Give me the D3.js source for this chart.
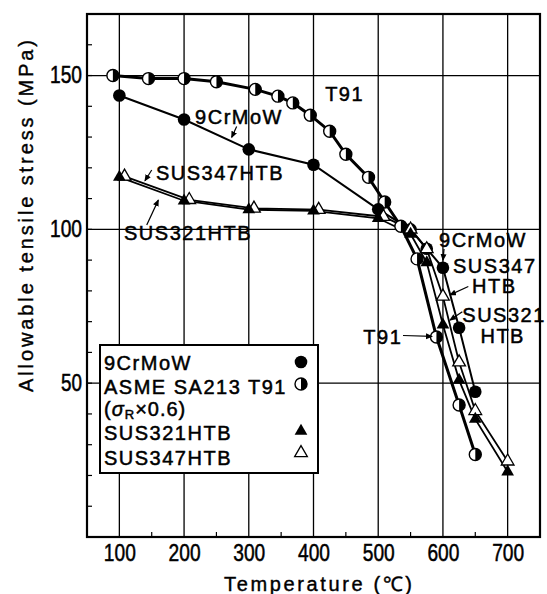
<!DOCTYPE html>
<html>
<head>
<meta charset="utf-8">
<script src="https://cdn.jsdelivr.net/npm/d3@7/dist/d3.min.js"></script>
<style>
body{margin:0;background:#fff;}
text{font-family:"Liberation Sans",Arial,sans-serif;fill:#000;}
</style>
</head>
<body>
<div id="chart"></div>
<script>
// values
var xTicks = [100,200,300,400,500,600,700];
var yTicks = [50,100,150];

var temp9Cr = [100,200,300,400,500,550,575,600,625,650];
var stress9Cr = [143.5,135.7,126,121,106.5,100,93.7,87.5,68,47.2];

var tempT91 = [90,145,200,250,310,345,368,395,425,450,485,510,535,560,590,625,650];
var stressT91 = [150,149,149,148,145.5,143.3,141.1,137.1,131.9,124.4,116.9,108.9,101,90.4,65,42.9,26.8];

var temp321 = [100,200,300,400,500,550,575,600,625,650,700];
var stress321 = [117,109.3,106.4,106,103.6,98.5,89.2,69,51,38.3,21.2];

var temp347 = [108,208,308,408,508,550,575,600,625,650,700];
var stress347 = [117.2,109.6,106.8,106.4,104.1,100,93.6,78.2,56.8,41,24.6];

var legendLabels = ["9CrMoW","ASME SA213 T91","SUS321HTB","SUS347HTB"];

// annotation text [label, temp, stress] and leader lines [t1,s1,t2,s2]
var notes = [
  ["T91",418,141.7],["9CrMoW",217,134.2],["SUS347HTB",156.6,116],["SUS321HTB",107.2,96.5],
  ["9CrMoW",594,94.3],["SUS347",615.6,85.8],["HTB",645,79.3],
  ["SUS321",630,69.9],["HTB",658,63.1],["T91",477,62.7]
];
var leaders = [
  [281.3,133.4,273.6,129.9],[150,119.3,139.6,115.8],[142.3,101.4,160.2,109.5],
  [601.7,93.6,600.1,90.0],[639.2,81.4,611,78.7],[630,73.2,611,70.5],[538.3,65.5,583.1,65.2]
];

var width = 547, height = 594;
var svg = d3.select("#chart").append("svg")
    .attr("width",width).attr("height",height);

var xScale = d3.scaleLinear().domain([50,750]).range([87,540]);
var yScale = d3.scaleLinear().domain([0,170]).range([537,14]);

svg.append("defs").append("marker")
    .attr("id","arr").attr("markerUnits","userSpaceOnUse")
    .attr("markerWidth",8).attr("markerHeight",8)
    .attr("refX",6).attr("refY",3).attr("orient","auto")
    .append("path").attr("d","M0,0L7,3L0,6Z").attr("fill","#000");

// grid
svg.append("g").selectAll("line").data(xTicks).enter().append("line")
    .attr("x1",d=>xScale(d)).attr("x2",d=>xScale(d))
    .attr("y1",yScale(0)).attr("y2",yScale(170))
    .attr("stroke","#000").attr("stroke-width",1.3);
svg.append("g").selectAll("line").data(yTicks).enter().append("line")
    .attr("x1",xScale(50)).attr("x2",xScale(750))
    .attr("y1",d=>yScale(d)).attr("y2",d=>yScale(d))
    .attr("stroke","#000").attr("stroke-width",1.3);

// minor ticks
svg.append("g").selectAll("line").data(d3.range(10,170,10)).enter().append("line")
    .attr("x1",xScale(50)).attr("x2",xScale(50)+5)
    .attr("y1",d=>yScale(d)).attr("y2",d=>yScale(d))
    .attr("stroke","#000").attr("stroke-width",1.2);
svg.append("g").selectAll("line").data(d3.range(150,750,100)).enter().append("line")
    .attr("x1",d=>xScale(d)).attr("x2",d=>xScale(d))
    .attr("y1",yScale(0)).attr("y2",yScale(0)-5)
    .attr("stroke","#000").attr("stroke-width",1.2);

svg.append("rect")
    .attr("x",xScale(50)).attr("y",yScale(170))
    .attr("width",xScale(750)-xScale(50)).attr("height",yScale(0)-yScale(170))
    .attr("fill","none").attr("stroke","#000").attr("stroke-width",2.2);

// axes labels
var xAxis = svg.append("g")
    .attr("transform","translate(0,"+yScale(0)+")")
    .call(d3.axisBottom(xScale).tickValues(xTicks).tickSize(0).tickPadding(7));
xAxis.select(".domain").remove();
xAxis.selectAll("text")
    .attr("font-size",24).attr("dy","0.71em")
    .attr("textLength",32).attr("lengthAdjust","spacingAndGlyphs");

var yAxis = svg.append("g")
    .attr("transform","translate("+xScale(50)+",0)")
    .call(d3.axisLeft(yScale).tickValues(yTicks).tickSize(0).tickPadding(5));
yAxis.select(".domain").remove();
yAxis.selectAll("text")
    .attr("font-size",23)
    .attr("textLength",d=>d>=100?32:21).attr("lengthAdjust","spacingAndGlyphs");
svg.selectAll(".tick text").attr("fill","#000")
    .attr("stroke","#000").attr("stroke-width",0.5)
    .style("font-family","'Liberation Sans',Arial,sans-serif");

svg.append("text")
    .attr("x",318).attr("y",591).attr("text-anchor","middle")
    .attr("font-size",20).attr("textLength",188).attr("lengthAdjust","spacing")
    .attr("stroke","#000").attr("stroke-width",0.4)
    .text("Temperature (℃)");
svg.append("text")
    .attr("transform","translate(33,216) rotate(-90)").attr("text-anchor","middle")
    .attr("font-size",20).attr("textLength",352).attr("lengthAdjust","spacing")
    .attr("stroke","#000").attr("stroke-width",0.4)
    .text("Allowable tensile stress  (MPa)");

// lines
function pts(ts,ss){ return ts.map((t,i)=>[t,ss[i]]); }
var line = d3.line().x(d=>xScale(d[0])).y(d=>yScale(d[1]));
svg.append("path").datum(pts(tempT91,stressT91)).attr("d",line)
    .attr("fill","none").attr("stroke","#000").attr("stroke-width",3);
svg.append("path").datum(pts(temp9Cr,stress9Cr)).attr("d",line)
    .attr("fill","none").attr("stroke","#000").attr("stroke-width",2);
svg.append("path").datum(pts(temp321,stress321)).attr("d",line)
    .attr("fill","none").attr("stroke","#000").attr("stroke-width",1.8);
svg.append("path").datum(pts(temp347,stress347)).attr("d",line)
    .attr("fill","none").attr("stroke","#000").attr("stroke-width",1.8);

// markers
var tri = d3.symbol().type(d3.symbolTriangle).size(70);
function halfCircle(g){
    g.append("circle").attr("r",6).attr("fill","#fff").attr("stroke","#000").attr("stroke-width",1.4);
    g.append("path").attr("d","M0,-6A6,6 0 0 1 0,6Z").attr("fill","#000");
}
svg.append("g").selectAll("g").data(pts(tempT91,stressT91)).enter().append("g")
    .attr("transform",d=>"translate("+xScale(d[0])+","+yScale(d[1])+")")
    .call(halfCircle);
svg.append("g").selectAll("circle").data(pts(temp9Cr,stress9Cr)).enter().append("circle")
    .attr("cx",line.x()).attr("cy",line.y()).attr("r",6.3).attr("fill","#000");
svg.append("g").selectAll("path").data(pts(temp347,stress347)).enter().append("path")
    .attr("d",tri).attr("transform",d=>"translate("+xScale(d[0])+","+yScale(d[1])+")")
    .attr("fill","#fff").attr("stroke","#000").attr("stroke-width",1.3);
svg.append("g").selectAll("path").data(pts(temp321,stress321)).enter().append("path")
    .attr("d",tri).attr("transform",d=>"translate("+xScale(d[0])+","+yScale(d[1])+")")
    .attr("fill","#000");

// annotations
svg.append("g").selectAll("line").data(leaders).enter().append("line")
    .attr("x1",d=>xScale(d[0])).attr("y1",d=>yScale(d[1]))
    .attr("x2",d=>xScale(d[2])).attr("y2",d=>yScale(d[3]))
    .attr("stroke","#000").attr("stroke-width",1.2).attr("marker-end","url(#arr)");
svg.append("g").selectAll("text").data(notes).enter().append("text")
    .attr("x",d=>xScale(d[1])).attr("y",d=>yScale(d[2]))
    .attr("font-size",20).attr("letter-spacing","1.5px")
    .attr("stroke","#000").attr("stroke-width",0.5)
    .text(d=>d[0]);

// legend
var lg = svg.append("g").attr("transform","translate(100,345)");
lg.append("rect").attr("width",218).attr("height",128)
    .attr("fill","#fff").attr("stroke","#000").attr("stroke-width",2);
var rowsY = [25,49,95,120];
lg.selectAll("text.lab").data(legendLabels).enter().append("text")
    .attr("class","lab").attr("x",4).attr("y",(d,i)=>rowsY[i])
    .attr("font-size",20).attr("letter-spacing","1.5px")
    .attr("stroke","#000").attr("stroke-width",0.5)
    .text(d=>d);
var sig = lg.append("text").attr("x",4).attr("y",71).attr("font-size",20)
    .attr("stroke","#000").attr("stroke-width",0.5).attr("letter-spacing","1px");
sig.append("tspan").text("(");
sig.append("tspan").attr("font-style","italic").text("σ");
sig.append("tspan").attr("font-size",13).attr("dy",3).text("R");
sig.append("tspan").attr("dy",-3).text("×0.6)");
lg.append("circle").attr("cx",201).attr("cy",17).attr("r",6.3).attr("fill","#000");
lg.append("g").attr("transform","translate(201,39)").call(halfCircle);
lg.append("path").attr("d",tri).attr("transform","translate(201,86)").attr("fill","#000");
lg.append("path").attr("d",tri).attr("transform","translate(201,108)")
    .attr("fill","#fff").attr("stroke","#000").attr("stroke-width",1.3);
</script>
</body>
</html>
